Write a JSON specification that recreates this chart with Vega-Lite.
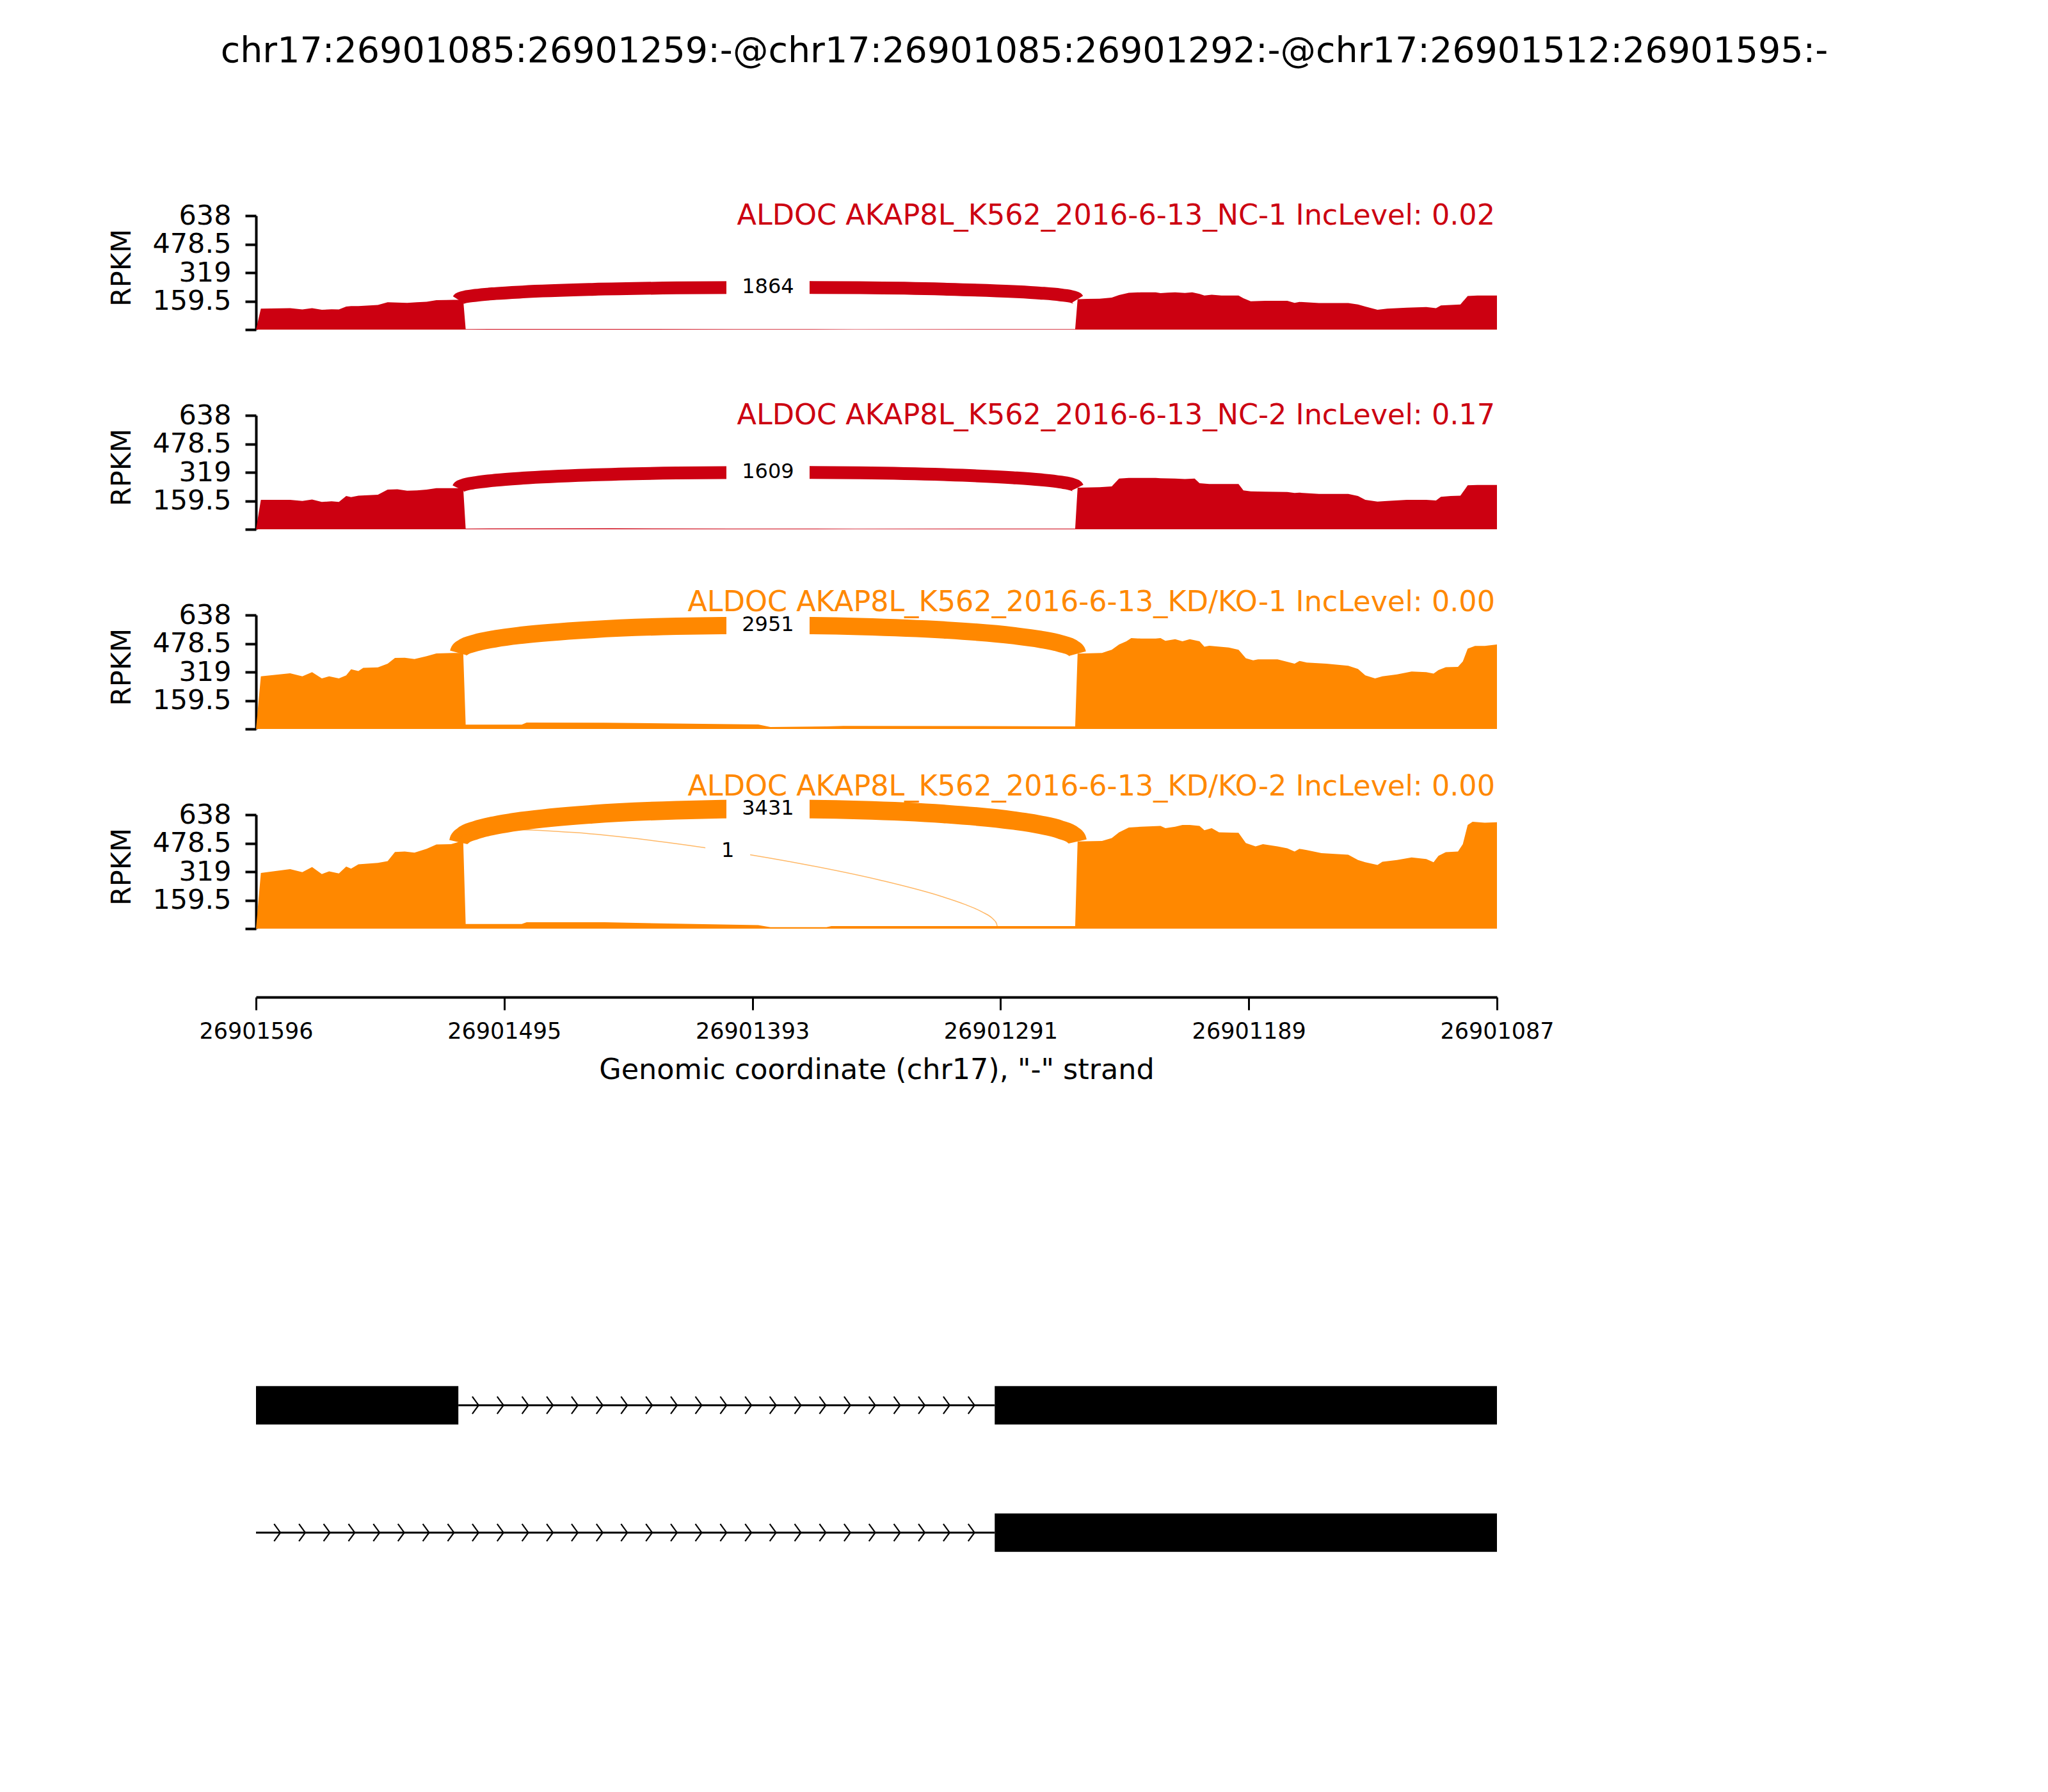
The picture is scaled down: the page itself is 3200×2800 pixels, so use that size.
{
  "$schema": "https://vega.github.io/schema/vega-lite/v6.json",
  "background": "white",
  "padding": {"left": 169, "top": 53, "right": 10, "bottom": 10},
  "title": {"text": "chr17:26901085:26901259:-@chr17:26901085:26901292:-@chr17:26901512:26901595:-", "fontSize": 55.5, "fontWeight": "normal", "font": "DejaVu Sans", "color": "black", "anchor": "middle", "frame": "group", "dx": 231, "offset": 162, "baseline": "alphabetic"},
  "config": {
    "font": "DejaVu Sans",
    "view": {"stroke": null},
    "title": {"fontWeight": "normal", "baseline": "alphabetic", "anchor": "end", "frame": "group", "fontSize": 44.5, "dx": -3},
    "axis": {"domainColor": "black", "tickColor": "black", "labelColor": "black", "titleColor": "black", "grid": false, "labelFlush": false, "titleFontWeight": "normal"},
    "axisY": {"labelFontSize": 43, "tickSize": 17, "tickWidth": 4, "domainWidth": 4, "labelPadding": 22, "titleFontSize": 43, "titlePadding": 25, "titleY": 81},
    "axisX": {"labelFontSize": 35, "tickSize": 20, "tickWidth": 3, "domainWidth": 4, "labelPadding": 16, "titleFontSize": 44.5, "titlePadding": 21}
  },
  "datasets": {
    "coverage": [
      {"sample":"NC-1","pos":26901596,"rpkm":0},{"sample":"NC-1","pos":26901594,"rpkm":117},{"sample":"NC-1","pos":26901582,"rpkm":120},{"sample":"NC-1","pos":26901577,"rpkm":113},{"sample":"NC-1","pos":26901573,"rpkm":120},{"sample":"NC-1","pos":26901569,"rpkm":111},{"sample":"NC-1","pos":26901565,"rpkm":114},{"sample":"NC-1","pos":26901562,"rpkm":113},{"sample":"NC-1","pos":26901559,"rpkm":129},{"sample":"NC-1","pos":26901557,"rpkm":132},{"sample":"NC-1","pos":26901554,"rpkm":132},{"sample":"NC-1","pos":26901546,"rpkm":138},{"sample":"NC-1","pos":26901542,"rpkm":153},{"sample":"NC-1","pos":26901538,"rpkm":151},{"sample":"NC-1","pos":26901534,"rpkm":150},{"sample":"NC-1","pos":26901530,"rpkm":153},{"sample":"NC-1","pos":26901526,"rpkm":156},{"sample":"NC-1","pos":26901522,"rpkm":165},{"sample":"NC-1","pos":26901518,"rpkm":166},{"sample":"NC-1","pos":26901515,"rpkm":167},{"sample":"NC-1","pos":26901511,"rpkm":167},{"sample":"NC-1","pos":26901510,"rpkm":3},{"sample":"NC-1","pos":26901450,"rpkm":4},{"sample":"NC-1","pos":26901400,"rpkm":3},{"sample":"NC-1","pos":26901350,"rpkm":2},{"sample":"NC-1","pos":26901300,"rpkm":3},{"sample":"NC-1","pos":26901260,"rpkm":3},{"sample":"NC-1","pos":26901259,"rpkm":170},{"sample":"NC-1","pos":26901255,"rpkm":172},{"sample":"NC-1","pos":26901250,"rpkm":173},{"sample":"NC-1","pos":26901245,"rpkm":179},{"sample":"NC-1","pos":26901242,"rpkm":194},{"sample":"NC-1","pos":26901238,"rpkm":206},{"sample":"NC-1","pos":26901233,"rpkm":209},{"sample":"NC-1","pos":26901227,"rpkm":209},{"sample":"NC-1","pos":26901225,"rpkm":204},{"sample":"NC-1","pos":26901222,"rpkm":207},{"sample":"NC-1","pos":26901219,"rpkm":209},{"sample":"NC-1","pos":26901215,"rpkm":205},{"sample":"NC-1","pos":26901212,"rpkm":209},{"sample":"NC-1","pos":26901209,"rpkm":200},{"sample":"NC-1","pos":26901207,"rpkm":191},{"sample":"NC-1","pos":26901204,"rpkm":195},{"sample":"NC-1","pos":26901200,"rpkm":191},{"sample":"NC-1","pos":26901193,"rpkm":191},{"sample":"NC-1","pos":26901191,"rpkm":176},{"sample":"NC-1","pos":26901188,"rpkm":159},{"sample":"NC-1","pos":26901182,"rpkm":161},{"sample":"NC-1","pos":26901173,"rpkm":161},{"sample":"NC-1","pos":26901170,"rpkm":150},{"sample":"NC-1","pos":26901168,"rpkm":155},{"sample":"NC-1","pos":26901160,"rpkm":149},{"sample":"NC-1","pos":26901148,"rpkm":149},{"sample":"NC-1","pos":26901144,"rpkm":141},{"sample":"NC-1","pos":26901141,"rpkm":129},{"sample":"NC-1","pos":26901136,"rpkm":111},{"sample":"NC-1","pos":26901132,"rpkm":117},{"sample":"NC-1","pos":26901124,"rpkm":123},{"sample":"NC-1","pos":26901116,"rpkm":126},{"sample":"NC-1","pos":26901112,"rpkm":120},{"sample":"NC-1","pos":26901110,"rpkm":135},{"sample":"NC-1","pos":26901106,"rpkm":138},{"sample":"NC-1","pos":26901102,"rpkm":141},{"sample":"NC-1","pos":26901099,"rpkm":188},{"sample":"NC-1","pos":26901095,"rpkm":191},{"sample":"NC-1","pos":26901087,"rpkm":191},
      {"sample":"NC-2","pos":26901596,"rpkm":0},{"sample":"NC-2","pos":26901594,"rpkm":165},{"sample":"NC-2","pos":26901582,"rpkm":165},{"sample":"NC-2","pos":26901577,"rpkm":159},{"sample":"NC-2","pos":26901573,"rpkm":167},{"sample":"NC-2","pos":26901569,"rpkm":153},{"sample":"NC-2","pos":26901565,"rpkm":157},{"sample":"NC-2","pos":26901562,"rpkm":153},{"sample":"NC-2","pos":26901559,"rpkm":186},{"sample":"NC-2","pos":26901557,"rpkm":180},{"sample":"NC-2","pos":26901554,"rpkm":188},{"sample":"NC-2","pos":26901546,"rpkm":194},{"sample":"NC-2","pos":26901542,"rpkm":222},{"sample":"NC-2","pos":26901538,"rpkm":224},{"sample":"NC-2","pos":26901534,"rpkm":216},{"sample":"NC-2","pos":26901530,"rpkm":218},{"sample":"NC-2","pos":26901526,"rpkm":222},{"sample":"NC-2","pos":26901522,"rpkm":230},{"sample":"NC-2","pos":26901515,"rpkm":230},{"sample":"NC-2","pos":26901511,"rpkm":230},{"sample":"NC-2","pos":26901510,"rpkm":4},{"sample":"NC-2","pos":26901450,"rpkm":5},{"sample":"NC-2","pos":26901400,"rpkm":4},{"sample":"NC-2","pos":26901350,"rpkm":3},{"sample":"NC-2","pos":26901300,"rpkm":4},{"sample":"NC-2","pos":26901260,"rpkm":4},{"sample":"NC-2","pos":26901259,"rpkm":233},{"sample":"NC-2","pos":26901250,"rpkm":236},{"sample":"NC-2","pos":26901245,"rpkm":240},{"sample":"NC-2","pos":26901242,"rpkm":284},{"sample":"NC-2","pos":26901238,"rpkm":288},{"sample":"NC-2","pos":26901233,"rpkm":288},{"sample":"NC-2","pos":26901227,"rpkm":288},{"sample":"NC-2","pos":26901225,"rpkm":286},{"sample":"NC-2","pos":26901219,"rpkm":284},{"sample":"NC-2","pos":26901215,"rpkm":281},{"sample":"NC-2","pos":26901211,"rpkm":284},{"sample":"NC-2","pos":26901209,"rpkm":258},{"sample":"NC-2","pos":26901205,"rpkm":254},{"sample":"NC-2","pos":26901193,"rpkm":254},{"sample":"NC-2","pos":26901191,"rpkm":218},{"sample":"NC-2","pos":26901188,"rpkm":212},{"sample":"NC-2","pos":26901182,"rpkm":211},{"sample":"NC-2","pos":26901173,"rpkm":209},{"sample":"NC-2","pos":26901170,"rpkm":203},{"sample":"NC-2","pos":26901168,"rpkm":205},{"sample":"NC-2","pos":26901160,"rpkm":198},{"sample":"NC-2","pos":26901148,"rpkm":198},{"sample":"NC-2","pos":26901144,"rpkm":186},{"sample":"NC-2","pos":26901141,"rpkm":165},{"sample":"NC-2","pos":26901136,"rpkm":155},{"sample":"NC-2","pos":26901132,"rpkm":159},{"sample":"NC-2","pos":26901124,"rpkm":165},{"sample":"NC-2","pos":26901116,"rpkm":165},{"sample":"NC-2","pos":26901112,"rpkm":161},{"sample":"NC-2","pos":26901110,"rpkm":182},{"sample":"NC-2","pos":26901106,"rpkm":186},{"sample":"NC-2","pos":26901102,"rpkm":188},{"sample":"NC-2","pos":26901099,"rpkm":246},{"sample":"NC-2","pos":26901095,"rpkm":248},{"sample":"NC-2","pos":26901087,"rpkm":248},
      {"sample":"KD/KO-1","pos":26901596,"rpkm":0},{"sample":"KD/KO-1","pos":26901594,"rpkm":295},{"sample":"KD/KO-1","pos":26901582,"rpkm":312},{"sample":"KD/KO-1","pos":26901577,"rpkm":295},{"sample":"KD/KO-1","pos":26901573,"rpkm":318},{"sample":"KD/KO-1","pos":26901569,"rpkm":283},{"sample":"KD/KO-1","pos":26901566,"rpkm":295},{"sample":"KD/KO-1","pos":26901562,"rpkm":283},{"sample":"KD/KO-1","pos":26901559,"rpkm":300},{"sample":"KD/KO-1","pos":26901557,"rpkm":334},{"sample":"KD/KO-1","pos":26901554,"rpkm":324},{"sample":"KD/KO-1","pos":26901552,"rpkm":342},{"sample":"KD/KO-1","pos":26901546,"rpkm":345},{"sample":"KD/KO-1","pos":26901542,"rpkm":366},{"sample":"KD/KO-1","pos":26901539,"rpkm":398},{"sample":"KD/KO-1","pos":26901535,"rpkm":399},{"sample":"KD/KO-1","pos":26901531,"rpkm":392},{"sample":"KD/KO-1","pos":26901526,"rpkm":408},{"sample":"KD/KO-1","pos":26901522,"rpkm":423},{"sample":"KD/KO-1","pos":26901515,"rpkm":426},{"sample":"KD/KO-1","pos":26901511,"rpkm":426},{"sample":"KD/KO-1","pos":26901510,"rpkm":24},{"sample":"KD/KO-1","pos":26901487,"rpkm":24},{"sample":"KD/KO-1","pos":26901485,"rpkm":36},{"sample":"KD/KO-1","pos":26901453,"rpkm":35},{"sample":"KD/KO-1","pos":26901413,"rpkm":29},{"sample":"KD/KO-1","pos":26901390,"rpkm":25},{"sample":"KD/KO-1","pos":26901385,"rpkm":11},{"sample":"KD/KO-1","pos":26901362,"rpkm":14},{"sample":"KD/KO-1","pos":26901355,"rpkm":17},{"sample":"KD/KO-1","pos":26901300,"rpkm":16},{"sample":"KD/KO-1","pos":26901260,"rpkm":14},{"sample":"KD/KO-1","pos":26901259,"rpkm":422},{"sample":"KD/KO-1","pos":26901249,"rpkm":426},{"sample":"KD/KO-1","pos":26901245,"rpkm":444},{"sample":"KD/KO-1","pos":26901242,"rpkm":473},{"sample":"KD/KO-1","pos":26901239,"rpkm":491},{"sample":"KD/KO-1","pos":26901237,"rpkm":509},{"sample":"KD/KO-1","pos":26901233,"rpkm":506},{"sample":"KD/KO-1","pos":26901227,"rpkm":506},{"sample":"KD/KO-1","pos":26901225,"rpkm":509},{"sample":"KD/KO-1","pos":26901223,"rpkm":494},{"sample":"KD/KO-1","pos":26901219,"rpkm":503},{"sample":"KD/KO-1","pos":26901216,"rpkm":491},{"sample":"KD/KO-1","pos":26901213,"rpkm":503},{"sample":"KD/KO-1","pos":26901209,"rpkm":491},{"sample":"KD/KO-1","pos":26901207,"rpkm":461},{"sample":"KD/KO-1","pos":26901205,"rpkm":466},{"sample":"KD/KO-1","pos":26901197,"rpkm":456},{"sample":"KD/KO-1","pos":26901193,"rpkm":444},{"sample":"KD/KO-1","pos":26901190,"rpkm":396},{"sample":"KD/KO-1","pos":26901187,"rpkm":384},{"sample":"KD/KO-1","pos":26901185,"rpkm":390},{"sample":"KD/KO-1","pos":26901177,"rpkm":390},{"sample":"KD/KO-1","pos":26901170,"rpkm":366},{"sample":"KD/KO-1","pos":26901168,"rpkm":381},{"sample":"KD/KO-1","pos":26901165,"rpkm":372},{"sample":"KD/KO-1","pos":26901157,"rpkm":366},{"sample":"KD/KO-1","pos":26901148,"rpkm":354},{"sample":"KD/KO-1","pos":26901144,"rpkm":336},{"sample":"KD/KO-1","pos":26901141,"rpkm":300},{"sample":"KD/KO-1","pos":26901137,"rpkm":283},{"sample":"KD/KO-1","pos":26901134,"rpkm":295},{"sample":"KD/KO-1","pos":26901128,"rpkm":306},{"sample":"KD/KO-1","pos":26901122,"rpkm":322},{"sample":"KD/KO-1","pos":26901116,"rpkm":318},{"sample":"KD/KO-1","pos":26901113,"rpkm":310},{"sample":"KD/KO-1","pos":26901111,"rpkm":330},{"sample":"KD/KO-1","pos":26901108,"rpkm":346},{"sample":"KD/KO-1","pos":26901103,"rpkm":348},{"sample":"KD/KO-1","pos":26901101,"rpkm":378},{"sample":"KD/KO-1","pos":26901099,"rpkm":450},{"sample":"KD/KO-1","pos":26901096,"rpkm":465},{"sample":"KD/KO-1","pos":26901092,"rpkm":465},{"sample":"KD/KO-1","pos":26901087,"rpkm":473},
      {"sample":"KD/KO-2","pos":26901596,"rpkm":0},{"sample":"KD/KO-2","pos":26901594,"rpkm":312},{"sample":"KD/KO-2","pos":26901582,"rpkm":333},{"sample":"KD/KO-2","pos":26901577,"rpkm":316},{"sample":"KD/KO-2","pos":26901573,"rpkm":345},{"sample":"KD/KO-2","pos":26901569,"rpkm":306},{"sample":"KD/KO-2","pos":26901566,"rpkm":321},{"sample":"KD/KO-2","pos":26901562,"rpkm":309},{"sample":"KD/KO-2","pos":26901559,"rpkm":348},{"sample":"KD/KO-2","pos":26901557,"rpkm":336},{"sample":"KD/KO-2","pos":26901554,"rpkm":360},{"sample":"KD/KO-2","pos":26901546,"rpkm":368},{"sample":"KD/KO-2","pos":26901542,"rpkm":378},{"sample":"KD/KO-2","pos":26901539,"rpkm":429},{"sample":"KD/KO-2","pos":26901535,"rpkm":432},{"sample":"KD/KO-2","pos":26901531,"rpkm":426},{"sample":"KD/KO-2","pos":26901526,"rpkm":447},{"sample":"KD/KO-2","pos":26901522,"rpkm":471},{"sample":"KD/KO-2","pos":26901516,"rpkm":473},{"sample":"KD/KO-2","pos":26901513,"rpkm":485},{"sample":"KD/KO-2","pos":26901511,"rpkm":485},{"sample":"KD/KO-2","pos":26901510,"rpkm":26},{"sample":"KD/KO-2","pos":26901487,"rpkm":26},{"sample":"KD/KO-2","pos":26901485,"rpkm":36},{"sample":"KD/KO-2","pos":26901453,"rpkm":36},{"sample":"KD/KO-2","pos":26901420,"rpkm":27},{"sample":"KD/KO-2","pos":26901390,"rpkm":20},{"sample":"KD/KO-2","pos":26901385,"rpkm":8},{"sample":"KD/KO-2","pos":26901362,"rpkm":8},{"sample":"KD/KO-2","pos":26901360,"rpkm":14},{"sample":"KD/KO-2","pos":26901300,"rpkm":14},{"sample":"KD/KO-2","pos":26901260,"rpkm":14},{"sample":"KD/KO-2","pos":26901259,"rpkm":488},{"sample":"KD/KO-2","pos":26901249,"rpkm":491},{"sample":"KD/KO-2","pos":26901245,"rpkm":507},{"sample":"KD/KO-2","pos":26901242,"rpkm":539},{"sample":"KD/KO-2","pos":26901238,"rpkm":566},{"sample":"KD/KO-2","pos":26901233,"rpkm":571},{"sample":"KD/KO-2","pos":26901225,"rpkm":575},{"sample":"KD/KO-2","pos":26901223,"rpkm":563},{"sample":"KD/KO-2","pos":26901219,"rpkm":571},{"sample":"KD/KO-2","pos":26901216,"rpkm":581},{"sample":"KD/KO-2","pos":26901213,"rpkm":581},{"sample":"KD/KO-2","pos":26901209,"rpkm":575},{"sample":"KD/KO-2","pos":26901207,"rpkm":551},{"sample":"KD/KO-2","pos":26901204,"rpkm":563},{"sample":"KD/KO-2","pos":26901201,"rpkm":539},{"sample":"KD/KO-2","pos":26901193,"rpkm":537},{"sample":"KD/KO-2","pos":26901190,"rpkm":479},{"sample":"KD/KO-2","pos":26901186,"rpkm":461},{"sample":"KD/KO-2","pos":26901183,"rpkm":473},{"sample":"KD/KO-2","pos":26901177,"rpkm":461},{"sample":"KD/KO-2","pos":26901173,"rpkm":450},{"sample":"KD/KO-2","pos":26901170,"rpkm":432},{"sample":"KD/KO-2","pos":26901168,"rpkm":447},{"sample":"KD/KO-2","pos":26901165,"rpkm":440},{"sample":"KD/KO-2","pos":26901159,"rpkm":423},{"sample":"KD/KO-2","pos":26901148,"rpkm":414},{"sample":"KD/KO-2","pos":26901144,"rpkm":384},{"sample":"KD/KO-2","pos":26901141,"rpkm":372},{"sample":"KD/KO-2","pos":26901136,"rpkm":357},{"sample":"KD/KO-2","pos":26901134,"rpkm":375},{"sample":"KD/KO-2","pos":26901128,"rpkm":384},{"sample":"KD/KO-2","pos":26901122,"rpkm":399},{"sample":"KD/KO-2","pos":26901116,"rpkm":390},{"sample":"KD/KO-2","pos":26901113,"rpkm":372},{"sample":"KD/KO-2","pos":26901111,"rpkm":408},{"sample":"KD/KO-2","pos":26901108,"rpkm":428},{"sample":"KD/KO-2","pos":26901103,"rpkm":432},{"sample":"KD/KO-2","pos":26901101,"rpkm":473},{"sample":"KD/KO-2","pos":26901099,"rpkm":581},{"sample":"KD/KO-2","pos":26901097,"rpkm":599},{"sample":"KD/KO-2","pos":26901092,"rpkm":593},{"sample":"KD/KO-2","pos":26901087,"rpkm":596}
    ],
    "arcs": [
      {"sample":"NC-1","jid":"a","t":0,"pos":26901513,"rpkm":167},{"sample":"NC-1","jid":"a","t":0.02,"pos":26901512.7,"rpkm":172.36},{"sample":"NC-1","jid":"a","t":0.05,"pos":26901511.16,"rpkm":180},{"sample":"NC-1","jid":"a","t":0.1,"pos":26901505.89,"rpkm":191.65},{"sample":"NC-1","jid":"a","t":0.15,"pos":26901497.57,"rpkm":201.99},{"sample":"NC-1","jid":"a","t":0.2,"pos":26901486.58,"rpkm":210.99},{"sample":"NC-1","jid":"a","t":0.3,"pos":26901458.14,"rpkm":224.98},{"sample":"NC-1","jid":"a","t":0.4,"pos":26901423.59,"rpkm":233.58},{"sample":"NC-1","jid":"a","t":0.5,"pos":26901386,"rpkm":236.75},{"sample":"NC-1","jid":"a","t":0.6,"pos":26901348.41,"rpkm":234.46},{"sample":"NC-1","jid":"a","t":0.7,"pos":26901313.86,"rpkm":226.68},{"sample":"NC-1","jid":"a","t":0.8,"pos":26901285.42,"rpkm":213.37},{"sample":"NC-1","jid":"a","t":0.85,"pos":26901274.43,"rpkm":204.63},{"sample":"NC-1","jid":"a","t":0.9,"pos":26901266.11,"rpkm":194.49},{"sample":"NC-1","jid":"a","t":0.95,"pos":26901260.84,"rpkm":182.95},{"sample":"NC-1","jid":"a","t":0.98,"pos":26901259.3,"rpkm":175.35},{"sample":"NC-1","jid":"a","t":1,"pos":26901259,"rpkm":170},
      {"sample":"NC-2","jid":"a","t":0,"pos":26901513,"rpkm":230},{"sample":"NC-2","jid":"a","t":0.02,"pos":26901512.7,"rpkm":236.88},{"sample":"NC-2","jid":"a","t":0.05,"pos":26901511.16,"rpkm":246.69},{"sample":"NC-2","jid":"a","t":0.1,"pos":26901505.89,"rpkm":261.67},{"sample":"NC-2","jid":"a","t":0.15,"pos":26901497.57,"rpkm":274.93},{"sample":"NC-2","jid":"a","t":0.2,"pos":26901486.58,"rpkm":286.47},{"sample":"NC-2","jid":"a","t":0.3,"pos":26901458.14,"rpkm":304.36},{"sample":"NC-2","jid":"a","t":0.4,"pos":26901423.59,"rpkm":315.3},{"sample":"NC-2","jid":"a","t":0.5,"pos":26901386,"rpkm":319.25},{"sample":"NC-2","jid":"a","t":0.6,"pos":26901348.41,"rpkm":316.18},{"sample":"NC-2","jid":"a","t":0.7,"pos":26901313.86,"rpkm":306.06},{"sample":"NC-2","jid":"a","t":0.8,"pos":26901285.42,"rpkm":288.85},{"sample":"NC-2","jid":"a","t":0.85,"pos":26901274.43,"rpkm":277.57},{"sample":"NC-2","jid":"a","t":0.9,"pos":26901266.11,"rpkm":264.51},{"sample":"NC-2","jid":"a","t":0.95,"pos":26901260.84,"rpkm":249.65},{"sample":"NC-2","jid":"a","t":0.98,"pos":26901259.3,"rpkm":239.88},{"sample":"NC-2","jid":"a","t":1,"pos":26901259,"rpkm":233},
      {"sample":"KD/KO-1","jid":"a","t":0,"pos":26901513,"rpkm":426},{"sample":"KD/KO-1","jid":"a","t":0.02,"pos":26901512.7,"rpkm":438.29},{"sample":"KD/KO-1","jid":"a","t":0.05,"pos":26901511.16,"rpkm":455.75},{"sample":"KD/KO-1","jid":"a","t":0.1,"pos":26901505.89,"rpkm":482.32},{"sample":"KD/KO-1","jid":"a","t":0.15,"pos":26901497.57,"rpkm":505.7},{"sample":"KD/KO-1","jid":"a","t":0.2,"pos":26901486.58,"rpkm":525.9},{"sample":"KD/KO-1","jid":"a","t":0.3,"pos":26901458.14,"rpkm":556.81},{"sample":"KD/KO-1","jid":"a","t":0.4,"pos":26901423.59,"rpkm":575.07},{"sample":"KD/KO-1","jid":"a","t":0.5,"pos":26901386,"rpkm":580.75},{"sample":"KD/KO-1","jid":"a","t":0.6,"pos":26901348.41,"rpkm":573.89},{"sample":"KD/KO-1","jid":"a","t":0.7,"pos":26901313.86,"rpkm":554.53},{"sample":"KD/KO-1","jid":"a","t":0.8,"pos":26901285.42,"rpkm":522.74},{"sample":"KD/KO-1","jid":"a","t":0.85,"pos":26901274.43,"rpkm":502.18},{"sample":"KD/KO-1","jid":"a","t":0.9,"pos":26901266.11,"rpkm":478.54},{"sample":"KD/KO-1","jid":"a","t":0.95,"pos":26901260.84,"rpkm":451.81},{"sample":"KD/KO-1","jid":"a","t":0.98,"pos":26901259.3,"rpkm":434.29},{"sample":"KD/KO-1","jid":"a","t":1,"pos":26901259,"rpkm":422},
      {"sample":"KD/KO-2","jid":"a","t":0,"pos":26901513,"rpkm":485},{"sample":"KD/KO-2","jid":"a","t":0.02,"pos":26901512.7,"rpkm":499.46},{"sample":"KD/KO-2","jid":"a","t":0.05,"pos":26901511.16,"rpkm":520.08},{"sample":"KD/KO-2","jid":"a","t":0.1,"pos":26901505.89,"rpkm":551.5},{"sample":"KD/KO-2","jid":"a","t":0.15,"pos":26901497.57,"rpkm":579.28},{"sample":"KD/KO-2","jid":"a","t":0.2,"pos":26901486.58,"rpkm":603.39},{"sample":"KD/KO-2","jid":"a","t":0.3,"pos":26901458.14,"rpkm":640.63},{"sample":"KD/KO-2","jid":"a","t":0.4,"pos":26901423.59,"rpkm":663.18},{"sample":"KD/KO-2","jid":"a","t":0.5,"pos":26901386,"rpkm":671},{"sample":"KD/KO-2","jid":"a","t":0.6,"pos":26901348.41,"rpkm":664.06},{"sample":"KD/KO-2","jid":"a","t":0.7,"pos":26901313.86,"rpkm":642.33},{"sample":"KD/KO-2","jid":"a","t":0.8,"pos":26901285.42,"rpkm":605.77},{"sample":"KD/KO-2","jid":"a","t":0.85,"pos":26901274.43,"rpkm":581.92},{"sample":"KD/KO-2","jid":"a","t":0.9,"pos":26901266.11,"rpkm":554.34},{"sample":"KD/KO-2","jid":"a","t":0.95,"pos":26901260.84,"rpkm":523.04},{"sample":"KD/KO-2","jid":"a","t":0.98,"pos":26901259.3,"rpkm":502.46},{"sample":"KD/KO-2","jid":"a","t":1,"pos":26901259,"rpkm":488},
      {"sample":"KD/KO-2","jid":"b","t":0,"pos":26901513,"rpkm":485},{"sample":"KD/KO-2","jid":"b","t":0.02,"pos":26901512.74,"rpkm":498.9},{"sample":"KD/KO-2","jid":"b","t":0.05,"pos":26901511.4,"rpkm":516.65},{"sample":"KD/KO-2","jid":"b","t":0.1,"pos":26901506.81,"rpkm":538.23},{"sample":"KD/KO-2","jid":"b","t":0.15,"pos":26901499.57,"rpkm":550.49},{"sample":"KD/KO-2","jid":"b","t":0.2,"pos":26901490.02,"rpkm":554.1},{"sample":"KD/KO-2","jid":"b","t":0.3,"pos":26901465.26,"rpkm":538.24},{"sample":"KD/KO-2","jid":"b","t":0.4,"pos":26901435.21,"rpkm":496.33},{"sample":"KD/KO-2","jid":"b","t":0.5,"pos":26901402.5,"rpkm":434},{"sample":"KD/KO-2","jid":"b","t":0.6,"pos":26901369.79,"rpkm":356.91},{"sample":"KD/KO-2","jid":"b","t":0.7,"pos":26901339.74,"rpkm":270.72},{"sample":"KD/KO-2","jid":"b","t":0.8,"pos":26901314.98,"rpkm":181.06},{"sample":"KD/KO-2","jid":"b","t":0.85,"pos":26901305.43,"rpkm":136.71},{"sample":"KD/KO-2","jid":"b","t":0.9,"pos":26901298.19,"rpkm":93.61},{"sample":"KD/KO-2","jid":"b","t":0.95,"pos":26901293.6,"rpkm":52.47},{"sample":"KD/KO-2","jid":"b","t":0.98,"pos":26901292.26,"rpkm":29.02},{"sample":"KD/KO-2","jid":"b","t":1,"pos":26901292,"rpkm":14}
    ],
    "labels": [
      {"sample":"NC-1","pos":26901386,"rpkm":236.75,"label":"1864"},
      {"sample":"NC-2","pos":26901386,"rpkm":319.25,"label":"1609"},
      {"sample":"KD/KO-1","pos":26901386,"rpkm":580.75,"label":"2951"},
      {"sample":"KD/KO-2","pos":26901386,"rpkm":671,"label":"3431"},
      {"sample":"KD/KO-2","pos":26901402.5,"rpkm":434,"label":"1"}
    ],
    "exons": [
      {"track":1,"start":26901596,"end":26901513},
      {"track":1,"start":26901293,"end":26901087},
      {"track":2,"start":26901293,"end":26901087}
    ],
    "introns": [
      {"track":1,"start":26901513,"end":26901293},
      {"track":2,"start":26901596,"end":26901293}
    ],
    "arrows": [
      {"track":1,"pos":26901504.7},{"track":1,"pos":26901494.5},{"track":1,"pos":26901484.3},{"track":1,"pos":26901474.2},{"track":1,"pos":26901464.0},{"track":1,"pos":26901453.8},{"track":1,"pos":26901443.7},{"track":1,"pos":26901433.5},{"track":1,"pos":26901423.3},{"track":1,"pos":26901413.2},{"track":1,"pos":26901403.0},{"track":1,"pos":26901392.8},{"track":1,"pos":26901382.7},{"track":1,"pos":26901372.5},{"track":1,"pos":26901362.3},{"track":1,"pos":26901352.2},{"track":1,"pos":26901342.0},{"track":1,"pos":26901331.8},{"track":1,"pos":26901321.7},{"track":1,"pos":26901311.5},{"track":1,"pos":26901301.3},
      {"track":2,"pos":26901586.0},{"track":2,"pos":26901575.8},{"track":2,"pos":26901565.7},{"track":2,"pos":26901555.5},{"track":2,"pos":26901545.3},{"track":2,"pos":26901535.2},{"track":2,"pos":26901525.0},{"track":2,"pos":26901514.8},{"track":2,"pos":26901504.7},{"track":2,"pos":26901494.5},{"track":2,"pos":26901484.3},{"track":2,"pos":26901474.2},{"track":2,"pos":26901464.0},{"track":2,"pos":26901453.8},{"track":2,"pos":26901443.7},{"track":2,"pos":26901433.5},{"track":2,"pos":26901423.3},{"track":2,"pos":26901413.2},{"track":2,"pos":26901403.0},{"track":2,"pos":26901392.8},{"track":2,"pos":26901382.7},{"track":2,"pos":26901372.5},{"track":2,"pos":26901362.3},{"track":2,"pos":26901352.2},{"track":2,"pos":26901342.0},{"track":2,"pos":26901331.8},{"track":2,"pos":26901321.7},{"track":2,"pos":26901311.5},{"track":2,"pos":26901301.3}
    ]
  },
  "spacing": 134,
  "bounds": "flush",
  "vconcat": [
    {
      "width": 1939, "height": 178,
      "title": {"text": "ALDOC AKAP8L_K562_2016-6-13_NC-1 IncLevel: 0.02", "color": "#CC0011", "offset": -44},
      "encoding": {
        "x": {"field": "pos", "type": "quantitative", "scale": {"domain": [26901087, 26901596], "reverse": true, "nice": false, "zero": false}, "axis": null},
        "y": {"field": "rpkm", "type": "quantitative", "scale": {"domain": [0, 638], "nice": false}, "axis": {"values": [0, 159.5, 319, 478.5, 638], "labelExpr": "datum.value == 0 ? '' : format(datum.value, '~g')", "title": "RPKM"}}
      },
      "layer": [
        {"data": {"name": "coverage"}, "transform": [{"filter": "datum.sample === 'NC-1'"}], "mark": {"type": "area", "color": "#CC0011"}},
        {"data": {"name": "arcs"}, "transform": [{"filter": "datum.sample === 'NC-1'"}], "mark": {"type": "line", "color": "#CC0011", "strokeWidth": 20, "strokeCap": "butt", "interpolate": "monotone"}, "encoding": {"order": {"field": "t"}}},
        {"data": {"name": "labels"}, "transform": [{"filter": "datum.sample === 'NC-1'"}], "mark": {"type": "point", "shape": "M-1,-0.43H1V0.43H-1Z", "filled": true, "color": "white", "opacity": 1, "strokeWidth": 0, "size": 16900}},
        {"data": {"name": "labels"}, "transform": [{"filter": "datum.sample === 'NC-1'"}], "mark": {"type": "text", "fontSize": 32, "color": "black", "baseline": "middle", "dy": -1}, "encoding": {"text": {"field": "label"}}}
      ]
    },
    {
      "width": 1939, "height": 178,
      "title": {"text": "ALDOC AKAP8L_K562_2016-6-13_NC-2 IncLevel: 0.17", "color": "#CC0011", "offset": -44},
      "encoding": {
        "x": {"field": "pos", "type": "quantitative", "scale": {"domain": [26901087, 26901596], "reverse": true, "nice": false, "zero": false}, "axis": null},
        "y": {"field": "rpkm", "type": "quantitative", "scale": {"domain": [0, 638], "nice": false}, "axis": {"values": [0, 159.5, 319, 478.5, 638], "labelExpr": "datum.value == 0 ? '' : format(datum.value, '~g')", "title": "RPKM"}}
      },
      "layer": [
        {"data": {"name": "coverage"}, "transform": [{"filter": "datum.sample === 'NC-2'"}], "mark": {"type": "area", "color": "#CC0011"}},
        {"data": {"name": "arcs"}, "transform": [{"filter": "datum.sample === 'NC-2'"}], "mark": {"type": "line", "color": "#CC0011", "strokeWidth": 20, "strokeCap": "butt", "interpolate": "monotone"}, "encoding": {"order": {"field": "t"}}},
        {"data": {"name": "labels"}, "transform": [{"filter": "datum.sample === 'NC-2'"}], "mark": {"type": "point", "shape": "M-1,-0.43H1V0.43H-1Z", "filled": true, "color": "white", "opacity": 1, "strokeWidth": 0, "size": 16900}},
        {"data": {"name": "labels"}, "transform": [{"filter": "datum.sample === 'NC-2'"}], "mark": {"type": "text", "fontSize": 32, "color": "black", "baseline": "middle", "dy": -1}, "encoding": {"text": {"field": "label"}}}
      ]
    },
    {
      "width": 1939, "height": 178,
      "title": {"text": "ALDOC AKAP8L_K562_2016-6-13_KD/KO-1 IncLevel: 0.00", "color": "#FF8800", "offset": -42},
      "encoding": {
        "x": {"field": "pos", "type": "quantitative", "scale": {"domain": [26901087, 26901596], "reverse": true, "nice": false, "zero": false}, "axis": null},
        "y": {"field": "rpkm", "type": "quantitative", "scale": {"domain": [0, 638], "nice": false}, "axis": {"values": [0, 159.5, 319, 478.5, 638], "labelExpr": "datum.value == 0 ? '' : format(datum.value, '~g')", "title": "RPKM"}}
      },
      "layer": [
        {"data": {"name": "coverage"}, "transform": [{"filter": "datum.sample === 'KD/KO-1'"}], "mark": {"type": "area", "color": "#FF8800"}},
        {"data": {"name": "arcs"}, "transform": [{"filter": "datum.sample === 'KD/KO-1'"}], "mark": {"type": "line", "color": "#FF8800", "strokeWidth": 27, "strokeCap": "butt", "interpolate": "monotone"}, "encoding": {"order": {"field": "t"}}},
        {"data": {"name": "labels"}, "transform": [{"filter": "datum.sample === 'KD/KO-1'"}], "mark": {"type": "point", "shape": "M-1,-0.43H1V0.43H-1Z", "filled": true, "color": "white", "opacity": 1, "strokeWidth": 0, "size": 16900}},
        {"data": {"name": "labels"}, "transform": [{"filter": "datum.sample === 'KD/KO-1'"}], "mark": {"type": "text", "fontSize": 32, "color": "black", "baseline": "middle", "dy": -1}, "encoding": {"text": {"field": "label"}}}
      ]
    },
    {
      "width": 1939, "height": 178,
      "title": {"text": "ALDOC AKAP8L_K562_2016-6-13_KD/KO-2 IncLevel: 0.00", "color": "#FF8800", "offset": -47},
      "encoding": {
        "x": {"field": "pos", "type": "quantitative", "scale": {"domain": [26901087, 26901596], "reverse": true, "nice": false, "zero": false}, "axis": {"orient": "bottom", "offset": 107, "values": [26901596, 26901494.2, 26901392.4, 26901290.6, 26901188.8, 26901087], "labelExpr": "format(ceil(datum.value), 'd')", "labelOverlap": false, "title": "Genomic coordinate (chr17), \"-\" strand"}},
        "y": {"field": "rpkm", "type": "quantitative", "scale": {"domain": [0, 638], "nice": false}, "axis": {"values": [0, 159.5, 319, 478.5, 638], "labelExpr": "datum.value == 0 ? '' : format(datum.value, '~g')", "title": "RPKM"}}
      },
      "layer": [
        {"data": {"name": "coverage"}, "transform": [{"filter": "datum.sample === 'KD/KO-2'"}], "mark": {"type": "area", "color": "#FF8800"}},
        {"data": {"name": "arcs"}, "transform": [{"filter": "datum.sample === 'KD/KO-2' && datum.jid === 'a'"}], "mark": {"type": "line", "color": "#FF8800", "strokeWidth": 29, "strokeCap": "butt", "interpolate": "monotone"}, "encoding": {"order": {"field": "t"}}},
        {"data": {"name": "arcs"}, "transform": [{"filter": "datum.sample === 'KD/KO-2' && datum.jid === 'b'"}], "mark": {"type": "line", "color": "#FF8800", "strokeWidth": 1.5, "opacity": 0.6, "interpolate": "monotone"}, "encoding": {"order": {"field": "t"}}},
        {"data": {"name": "labels"}, "transform": [{"filter": "datum.sample === 'KD/KO-2'"}], "mark": {"type": "point", "shape": "M-1,-0.43H1V0.43H-1Z", "filled": true, "color": "white", "opacity": 1, "strokeWidth": 0}, "encoding": {"size": {"condition": {"test": "datum.label === '1'", "value": 4900}, "value": 16900}}},
        {"data": {"name": "labels"}, "transform": [{"filter": "datum.sample === 'KD/KO-2'"}], "mark": {"type": "text", "fontSize": 32, "color": "black", "baseline": "middle", "dy": -1}, "encoding": {"text": {"field": "label"}}}
      ]
    },
    {
      "width": 1939, "height": 929,
      "layer": [
        {"data": {"name": "introns"}, "mark": {"type": "rule", "color": "black", "strokeWidth": 3}, "encoding": {"x": {"field": "start", "type": "quantitative", "scale": {"domain": [26901087, 26901596], "reverse": true, "nice": false, "zero": false}, "axis": null}, "x2": {"field": "end"}, "y": {"field": "track", "type": "quantitative", "scale": {"domain": [-2.07, 2.6], "reverse": true, "nice": false, "zero": false}, "axis": null}}},
        {"data": {"name": "exons"}, "mark": {"type": "rule", "color": "black", "strokeWidth": 60, "strokeCap": "butt"}, "encoding": {"x": {"field": "start", "type": "quantitative"}, "x2": {"field": "end"}, "y": {"field": "track", "type": "quantitative"}}},
        {"data": {"name": "arrows"}, "mark": {"type": "point", "shape": "M-0.73,-1L0,0L-0.73,1", "filled": false, "color": "black", "strokeWidth": 2.2, "opacity": 1, "size": 729}, "encoding": {"x": {"field": "pos", "type": "quantitative"}, "y": {"field": "track", "type": "quantitative"}}}
      ]
    }
  ]
}
